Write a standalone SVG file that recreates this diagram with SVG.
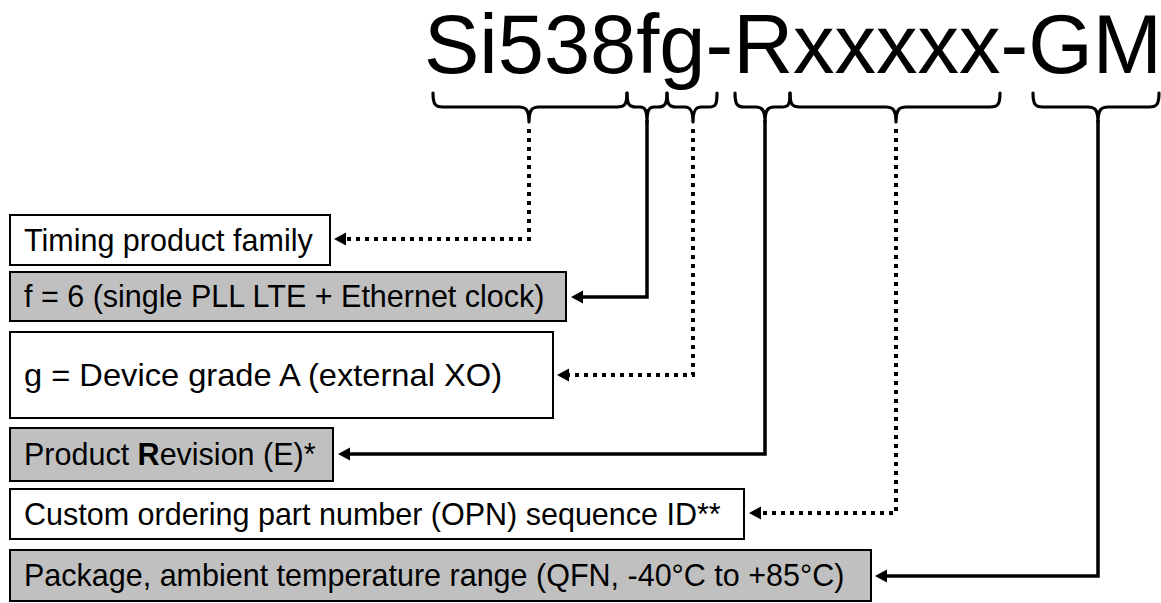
<svg xmlns="http://www.w3.org/2000/svg" width="1161" height="603" viewBox="0 0 1161 603">
<style>
.t{font-family:"Liberation Sans",Arial,sans-serif;font-size:30.5px;fill:#000}
.title{font-family:"Liberation Sans",Arial,sans-serif;font-size:83px;fill:#000}
.box{stroke:#000;stroke-width:2;fill:#fff}
.gray{fill:#c0c0c0}
.brace{fill:none;stroke:#000;stroke-width:3.2;stroke-linejoin:round;stroke-linecap:round}
.solid{fill:none;stroke:#000;stroke-width:3.5;marker-end:url(#arr)}
.dot{fill:none;stroke:#000;stroke-width:4;stroke-dasharray:4 5;marker-end:url(#arr)}
</style>
<defs>
<marker id="arr" viewBox="0 -8 16 16" markerWidth="16" markerHeight="16" refX="1" refY="0" orient="auto" markerUnits="userSpaceOnUse">
<path d="M0,-6.5 L12,0 L0,6.5 z" fill="#000" stroke="none"/>
</marker>
</defs>
<rect width="1161" height="603" fill="#fff"/>
<g id="title">
<text class="title" x="424" y="73">Si538fg-Rxxxxx-GM</text>
</g>
<g id="braces">
<path class="brace" d="M433,93 C433,104 435,107 443,107 H519 C526,107 529,110 529,122 C529,110 532,107 539,107 H617 C625,107 627,104 627,93"/>
<path class="brace" d="M627,93 C627,104 629,107 636,107 H640 C645,107 647,110 647,122 C647,110 649,107 654,107 H658 C665,107 667,104 667,93"/>
<path class="brace" d="M667,93 C667,104 669,107 676,107 H685 C690,107 693,110 693,122 C693,110 696,107 701,107 H709 C716,107 717,104 717,93"/>
<path class="brace" d="M735,93 C735,104 737,107 744,107 H756 C762,107 765,110 765,122 C765,110 768,107 774,107 H782 C789,107 790,104 790,93"/>
<path class="brace" d="M790,93 C790,104 792,107 800,107 H886 C893,107 896,110 896,122 C896,110 899,107 906,107 H990 C998,107 1000,104 1000,93"/>
<path class="brace" d="M1033,93 C1033,104 1035,107 1043,107 H1088 C1095,107 1098,110 1098,122 C1098,110 1101,107 1108,107 H1149 C1157,107 1159,104 1159,93"/>
</g>
<g id="connectors">
<path class="dot" d="M529,129 V239 H345"/>
<path class="solid" d="M647,120 V297 H582"/>
<path class="dot" d="M693,129 V375 H568"/>
<path class="solid" d="M765,120 V454 H349"/>
<path class="dot" d="M896,129 V513 H760"/>
<path class="solid" d="M1098,120 V576 H886"/>
</g>
<g id="n1">
<rect class="box" x="10" y="215" width="320" height="50"/>
<text class="t" x="24" y="250.5">Timing product family</text>
</g>
<g id="n2">
<rect class="box gray" x="10" y="272" width="556" height="49"/>
<text class="t" x="24" y="307">f = 6 (single PLL LTE + Ethernet clock)</text>
</g>
<g id="n3">
<rect class="box" x="10" y="332" width="543" height="86"/>
<text class="t" x="24" y="386" style="font-size:32px" textLength="478" lengthAdjust="spacingAndGlyphs">g = Device grade A (external XO)</text>
</g>
<g id="n4">
<rect class="box gray" x="10" y="428" width="323" height="53"/>
<text class="t" x="24" y="465">Product <tspan font-weight="bold">R</tspan>evision (E)*</text>
</g>
<g id="n5">
<rect class="box" x="10" y="489" width="734" height="50"/>
<text class="t" x="24" y="524.5">Custom ordering part number (OPN) sequence ID**</text>
</g>
<g id="n6">
<rect class="box gray" x="10" y="550" width="861" height="51"/>
<text class="t" x="24" y="586">Package, ambient temperature range (QFN, -40°C to +85°C)</text>
</g>
</svg>
